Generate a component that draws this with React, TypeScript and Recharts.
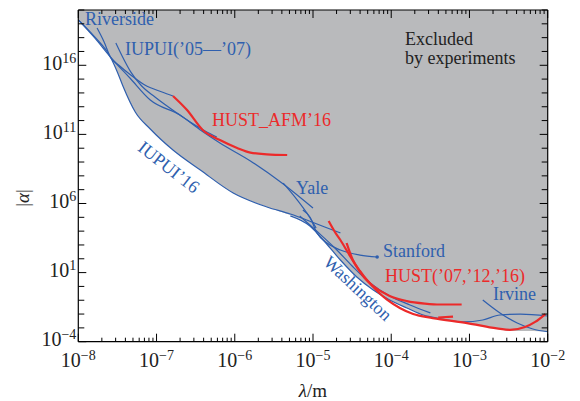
import React from "react";
import { ComposedChart, Area, Line, XAxis, YAxis } from "recharts";

// every curve is stored as [log10(lambda / m), log10 |alpha|]
const excludedEdge = [
  [-8.0, 19.28], [-7.79, 18.05], [-7.59, 16.6], [-7.5, 15.5], [-7.43, 14.5],
  [-7.27, 12.6], [-7.08, 11.39], [-6.79, 9.87], [-6.44, 8.42], [-6.02, 6.76],
  [-5.59, 5.75], [-5.29, 5.16], [-5.08, 4.59], [-4.87, 3.36], [-4.65, 1.91],
  [-4.44, 0.68], [-4.23, -0.26], [-4.02, -0.98], [-3.8, -1.56], [-3.59, -2.07],
  [-3.38, -2.32], [-3.03, -2.65], [-2.65, -3.04], [-2.48, -3.23], [-2.19, -3.23],
  [-2.0, -3.3],
];

const iupui16 = [
  [-8.0, 19.28], [-7.79, 18.05], [-7.59, 16.6], [-7.5, 15.5], [-7.43, 14.5],
  [-7.27, 12.6], [-7.08, 11.39], [-6.79, 9.87], [-6.44, 8.42], [-6.02, 6.76],
  [-5.59, 5.75], [-5.29, 5.24], [-5.08, 4.81], [-4.85, 4.3], [-4.65, 3.87],
];

const cornerLine = [
  [-8.0, 19.28], [-7.79, 17.98], [-7.59, 16.6], [-7.34, 15.08], [-7.08, 13.49],
  [-6.7, 12.4], [-6.44, 11.32], [-6.19, 10.38], [-5.8, 9.08], [-5.38, 7.41],
  [-5.0, 5.67],
];

const riverside = [
  [-7.76, 18.7], [-7.67, 17.69], [-7.59, 16.6], [-7.47, 15.95], [-7.33, 15.3],
  [-7.15, 14.57], [-6.93, 14.07], [-6.79, 13.78],
];

const iupui0507 = [
  [-7.52, 17.61], [-7.44, 16.67], [-7.33, 15.52], [-7.19, 14.5], [-7.02, 13.71],
  [-6.83, 12.91], [-6.57, 11.9], [-6.38, 11.25], [-6.23, 10.81],
];

const hustAfm16 = [
  [-6.79, 13.78], [-6.61, 12.76], [-6.41, 11.32], [-6.19, 10.59], [-5.97, 10.02],
  [-5.8, 9.68], [-5.59, 9.56], [-5.33, 9.51],
];

const yale = [[-5.38, 7.48], [-5.2, 6.25], [-5.06, 5.16], [-4.96, 4.23]];

const stanford = [
  [-5.13, 5.53], [-5.04, 5.02], [-4.95, 3.87], [-4.82, 3.14], [-4.65, 2.63],
  [-4.4, 2.27], [-4.18, 2.13],
];

const washington = [
  [-5.29, 5.1], [-5.04, 4.37], [-4.87, 3.36], [-4.65, 1.91], [-4.44, 0.68],
  [-4.23, -0.26], [-4.02, -0.98], [-3.8, -1.56], [-3.59, -2.07], [-3.38, -2.32],
  [-3.08, -2.57], [-2.83, -2.43], [-2.61, -2.07], [-2.35, -2.0], [-2.0, -2.14],
];

const washington2 = [
  [-5.17, 5.1], [-4.94, 3.94], [-4.72, 2.78], [-4.5, 1.48], [-4.27, 0.25],
  [-4.02, -0.69], [-3.76, -1.34], [-3.5, -1.92],
];

const hust07 = [
  [-4.8, 4.73], [-4.72, 3.94], [-4.65, 3.36], [-4.55, 2.42], [-4.44, 1.41],
  [-4.34, 0.61], [-4.23, 0.03], [-4.02, -0.69], [-3.8, -1.06], [-3.57, -1.24],
  [-3.38, -1.31], [-3.1, -1.31],
];

const hust16 = [
  [-4.57, 3.14], [-4.49, 1.91], [-4.4, 1.12], [-4.31, 0.46], [-4.18, -0.33],
  [-4.05, -0.98], [-3.89, -1.56], [-3.72, -2.0], [-3.47, -2.29], [-3.03, -2.65],
  [-2.65, -3.04], [-2.48, -3.15], [-2.29, -2.94], [-2.16, -2.57], [-2.03, -2.0],
];

const hust12 = [[-3.4, -2.25], [-3.21, -2.18]];

const irvine = [
  [-2.83, -0.98], [-2.61, -1.92], [-2.39, -2.65], [-2.19, -3.08], [-2.0, -3.28],
];

const xDecades = [-8, -7, -6, -5, -4, -3, -2];
const yMajor = [-4, 1, 6, 11, 16];

const BLUE = "#2f5fae";
const RED = "#ec2a2a";
const SERIF = "'Liberation Serif', 'Times New Roman', serif";

const toPts = (arr: number[][]) =>
  arr.map(([lx, ly]) => ({ x: Math.pow(10, lx), y: Math.pow(10, ly) }));

const xTicks: number[] = [];
xDecades.forEach((d, i) => {
  xTicks.push(Math.pow(10, d));
  if (i < xDecades.length - 1) {
    for (let k = 2; k <= 9; k++) xTicks.push(k * Math.pow(10, d));
  }
});
const yTicks: number[] = [];
for (let e = -4; e <= 20; e++) yTicks.push(Math.pow(10, e));

const sup = (e: number) => (e < 0 ? "\u2212" + Math.abs(e) : String(e));

const renderXTick = (props: any, side: string) => {
  const { x, y, payload } = props;
  const e = Math.log10(payload.value);
  const major = Math.abs(e - Math.round(e)) < 1e-6;
  const len = major ? 8 : 4;
  const dir = side === "bottom" ? -1 : 1;
  return (
    <g>
      <line x1={x} x2={x} y1={y} y2={y + dir * len} stroke="#000" strokeWidth={1} />
      {side === "bottom" && major && (
        <text x={x} y={y + 25} textAnchor="middle" fontFamily={SERIF} fontSize={20} fill="#222">
          10
          <tspan dy={-7} fontSize={14}>{sup(Math.round(e))}</tspan>
        </text>
      )}
    </g>
  );
};

const renderYTick = (props: any, side: string) => {
  const { x, y, payload } = props;
  const e = Math.round(Math.log10(payload.value));
  const major = yMajor.includes(e);
  const len = major ? 8 : 6;
  const dir = side === "left" ? 1 : -1;
  return (
    <g>
      <line x1={x} x2={x + dir * len} y1={y} y2={y} stroke="#000" strokeWidth={1} />
      {side === "left" && major && (
        <text x={x - 2} y={y + 4.5} textAnchor="end" fontFamily={SERIF} fontSize={20} fill="#222">
          10
          <tspan dy={-7} fontSize={14}>{sup(e)}</tspan>
        </text>
      )}
    </g>
  );
};

const blueCurves = [iupui16, cornerLine, riverside, iupui0507, yale, washington, washington2, irvine];
const redCurves = [hustAfm16, hust07, hust16, hust12];

export default function App() {
  const stanfordPts = toPts(stanford);
  return (
    <div style={{ position: "fixed", left: 0, top: 0, width: 580, height: 401, background: "#fff" }}>
      <ComposedChart
        width={580}
        height={401}
        margin={{ top: 9, right: 31.3, bottom: 58.3, left: 77.3 }}
      >
        <Area
          xAxisId="b"
          yAxisId="l"
          data={toPts(excludedEdge)}
          dataKey="y"
          type="monotoneX"
          baseValue="dataMax"
          stroke="none"
          fill="#b9babc"
          fillOpacity={1}
          isAnimationActive={false}
        />
        {blueCurves.map((c, i) => (
          <Line
            key={"b" + i}
            xAxisId="b"
            yAxisId="l"
            data={toPts(c)}
            dataKey="y"
            type="monotoneX"
            stroke={BLUE}
            strokeWidth={1.2}
            dot={false}
            isAnimationActive={false}
          />
        ))}
        <Line
          xAxisId="b"
          yAxisId="l"
          data={stanfordPts}
          dataKey="y"
          type="monotoneX"
          stroke={BLUE}
          strokeWidth={1.2}
          dot={(p: any) =>
            p.index === stanfordPts.length - 1 ? (
              <circle key={p.index} cx={p.cx} cy={p.cy} r={1.8} fill={BLUE} />
            ) : (
              <g key={p.index} />
            )
          }
          isAnimationActive={false}
        />
        {redCurves.map((c, i) => (
          <Line
            key={"r" + i}
            xAxisId="b"
            yAxisId="l"
            data={toPts(c)}
            dataKey="y"
            type="monotoneX"
            stroke={RED}
            strokeWidth={2.2}
            dot={false}
            isAnimationActive={false}
          />
        ))}
        <XAxis
          xAxisId="b"
          type="number"
          dataKey="x"
          scale="log"
          domain={[1e-8, 1e-2]}
          allowDataOverflow
          ticks={xTicks}
          interval={0}
          height={1}
          tickSize={0}
          tickMargin={0}
          tickLine={false}
          axisLine={{ stroke: "#000", strokeWidth: 1.2 }}
          tick={(p: any) => renderXTick(p, "bottom")}
        />
        <XAxis
          xAxisId="t"
          orientation="top"
          type="number"
          dataKey="x"
          scale="log"
          domain={[1e-8, 1e-2]}
          allowDataOverflow
          ticks={xTicks}
          interval={0}
          height={1}
          tickSize={0}
          tickMargin={0}
          tickLine={false}
          axisLine={{ stroke: "#000", strokeWidth: 1.2 }}
          tick={(p: any) => renderXTick(p, "top")}
        />
        <YAxis
          yAxisId="l"
          type="number"
          dataKey="y"
          scale="log"
          domain={[1e-4, 1e20]}
          allowDataOverflow
          ticks={yTicks}
          interval={0}
          width={1}
          tickSize={0}
          tickMargin={0}
          tickLine={false}
          axisLine={{ stroke: "#000", strokeWidth: 1.2 }}
          tick={(p: any) => renderYTick(p, "left")}
        />
        <YAxis
          yAxisId="r"
          orientation="right"
          type="number"
          dataKey="y"
          scale="log"
          domain={[1e-4, 1e20]}
          allowDataOverflow
          ticks={yTicks}
          interval={0}
          width={1}
          tickSize={0}
          tickMargin={0}
          tickLine={false}
          axisLine={{ stroke: "#000", strokeWidth: 1.2 }}
          tick={(p: any) => renderYTick(p, "right")}
        />
      </ComposedChart>
      <svg
        width={580}
        height={401}
        style={{ position: "absolute", left: 0, top: 0, pointerEvents: "none" }}
      >
        <g fontFamily={SERIF} fontSize={18}>
          <text x={85} y={25} fill={BLUE}>Riverside</text>
          <text x={125} y={55} fill={BLUE}>IUPUI(’05—’07)</text>
          <text x={212} y={126} fill={RED}>HUST_AFM’16</text>
          <text x={296} y={194} fill={BLUE}>Yale</text>
          <text x={383} y={256.5} fill={BLUE}>Stanford</text>
          <text x={385} y={281.5} fill={RED}>HUST(’07,’12,’16)</text>
          <text x={493} y={300} fill={BLUE}>Irvine</text>
          <text x={405} y={45} fill="#222">
            Excluded
            <tspan x={405} dy={19}>by experiments</tspan>
          </text>
          <text
            x={169}
            y={167}
            dy="0.35em"
            textAnchor="middle"
            fill={BLUE}
            transform="rotate(38 169 167)"
          >
            IUPUI’16
          </text>
          <text
            x={358}
            y={288}
            dy="0.35em"
            textAnchor="middle"
            fill={BLUE}
            transform="rotate(43 358 288)"
          >
            Washington
          </text>
          <text x={313} y={397} textAnchor="middle" fontSize={19} fill="#222">
            <tspan fontStyle="italic">λ</tspan>/m
          </text>
          <text
            x={22}
            y={198}
            dy="0.35em"
            textAnchor="middle"
            fontSize={19}
            fill="#222"
            transform="rotate(-90 22 198)"
          >
            |<tspan fontStyle="italic">α</tspan>|
          </text>
        </g>
      </svg>
    </div>
  );
}
